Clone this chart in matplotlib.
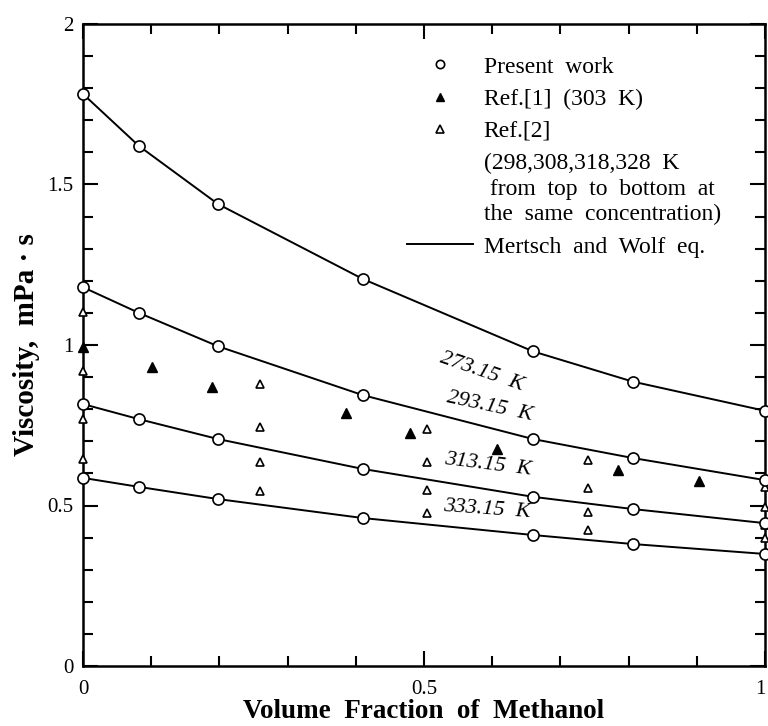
import matplotlib.pyplot as plt
from matplotlib.lines import Line2D
from matplotlib.transforms import ScaledTranslation

plt.rcParams["font.family"] = ["Liberation Serif", "DejaVu Serif"]

# Present work (circles) and Mertsch & Wolf curves
x_present = [0.0, 0.082, 0.198, 0.41, 0.66, 0.806, 1.0]
v_273 = [1.782, 1.620, 1.439, 1.206, 0.980, 0.886, 0.795]
v_293 = [1.180, 1.100, 0.996, 0.844, 0.707, 0.648, 0.579]
v_313 = [0.816, 0.769, 0.707, 0.614, 0.527, 0.489, 0.445]
v_333 = [0.586, 0.558, 0.520, 0.461, 0.408, 0.380, 0.349]
temps = ["273.15", "293.15", "313.15", "333.15"]

# Ref.[1] (303 K), filled triangles
x_ref1 = [0.0, 0.101, 0.189, 0.386, 0.48, 0.607, 0.784, 0.903]
v_ref1 = [0.994, 0.931, 0.869, 0.788, 0.726, 0.676, 0.611, 0.576]

# Ref.[2] (298, 308, 318, 328 K), open triangles
x_ref2 = [0.0, 0.26, 0.504, 0.74, 1.0]
v_298 = [1.103, 0.878, 0.738, 0.642, 0.558]
v_308 = [0.919, 0.745, 0.635, 0.555, 0.495]
v_318 = [0.769, 0.635, 0.548, 0.480, 0.440]
v_328 = [0.645, 0.545, 0.476, 0.424, 0.400]

# curve label positions / rotations
lab_x = [0.585, 0.597, 0.594, 0.592]
lab_y = [0.916, 0.807, 0.626, 0.486]
lab_rot = [-19, -12, -7, -4]

fig = plt.figure(figsize=(7.68, 7.26), dpi=100)
ax = fig.add_axes([83 / 768, 60 / 726, 682 / 768, 642 / 726])

for v in [v_273, v_293, v_313, v_333]:
    ax.plot(x_present, v, color="black", linewidth=1.4, zorder=2)
    ax.plot(x_present, v, linestyle="none", marker="o", markersize=8,
            markerfacecolor="white", markeredgecolor="black",
            markeredgewidth=1.2, zorder=4, clip_on=False)

for v in [v_298, v_308, v_318, v_328]:
    ax.plot(x_ref2, v, linestyle="none", marker="^", markersize=6,
            markerfacecolor="white", markeredgecolor="black",
            markeredgewidth=1.2, zorder=3, clip_on=False)

ax.plot(x_ref1, v_ref1, linestyle="none", marker="^", markersize=7,
        color="black", zorder=3, clip_on=False)

for t, lx, ly, r in zip(temps, lab_x, lab_y, lab_rot):
    ax.text(lx, ly, t + "  K", fontsize=16, style="italic",
            rotation=r, ha="center", va="center")

ax.set_xlim(0, 1)
ax.set_ylim(0, 2)
ax.set_xticks([0, 0.5, 1])
ax.set_xticklabels(["0", "0.5", "1"])
ax.set_yticks([0, 0.5, 1, 1.5, 2])
ax.set_yticklabels(["0", "0.5", "1", "1.5", "2"])
ax.set_xticks([i / 10 for i in range(11)], minor=True)
ax.set_yticks([i / 10 for i in range(21)], minor=True)
ax.tick_params(which="both", direction="in", top=True, right=True,
               width=1.5, labelsize=15)
ax.tick_params(which="major", length=11)
ax.tick_params(which="minor", length=7)
ax.tick_params(axis="x", pad=10)
ax.tick_params(axis="y", pad=7)
for s in ax.spines.values():
    s.set_linewidth(1.8)

# nudge the last x label so it stays inside the figure
last = ax.get_xticklabels()[-1]
last.set_transform(last.get_transform() + ScaledTranslation(-3 / 72, 0, fig.dpi_scale_trans))

ax.set_xlabel("Volume  Fraction  of  Methanol", fontsize=19.5,
              fontweight="bold", labelpad=0)
ax.set_ylabel("Viscosity,  mPa · s", fontsize=21, fontweight="bold",
              labelpad=5)

handles = [
    Line2D([], [], linestyle="none", marker="o", markersize=6,
           markerfacecolor="white", markeredgecolor="black", markeredgewidth=1.2),
    Line2D([], [], linestyle="none", marker="^", markersize=6, color="black"),
    Line2D([], [], linestyle="none", marker="^", markersize=6,
           markerfacecolor="white", markeredgecolor="black", markeredgewidth=1.2),
    Line2D([], [], linestyle="none"),
    Line2D([], [], color="black", linewidth=1.4),
]
labels = [
    "Present  work",
    "Ref.[1]  (303  K)",
    "Ref.[2]",
    "(298,308,318,328  K\n from  top  to  bottom  at\nthe  same  concentration)",
    "Mertsch  and  Wolf  eq.",
]
leg = ax.legend(handles, labels, loc="upper left", bbox_to_anchor=(0.475, 0.95),
                frameon=False, fontsize=17, handlelength=2.8, handletextpad=0.45,
                labelspacing=0.45, borderpad=0, borderaxespad=0)
for t in leg.get_texts():
    t.set_linespacing(1.3)

plt.savefig("out.png", dpi=100)
